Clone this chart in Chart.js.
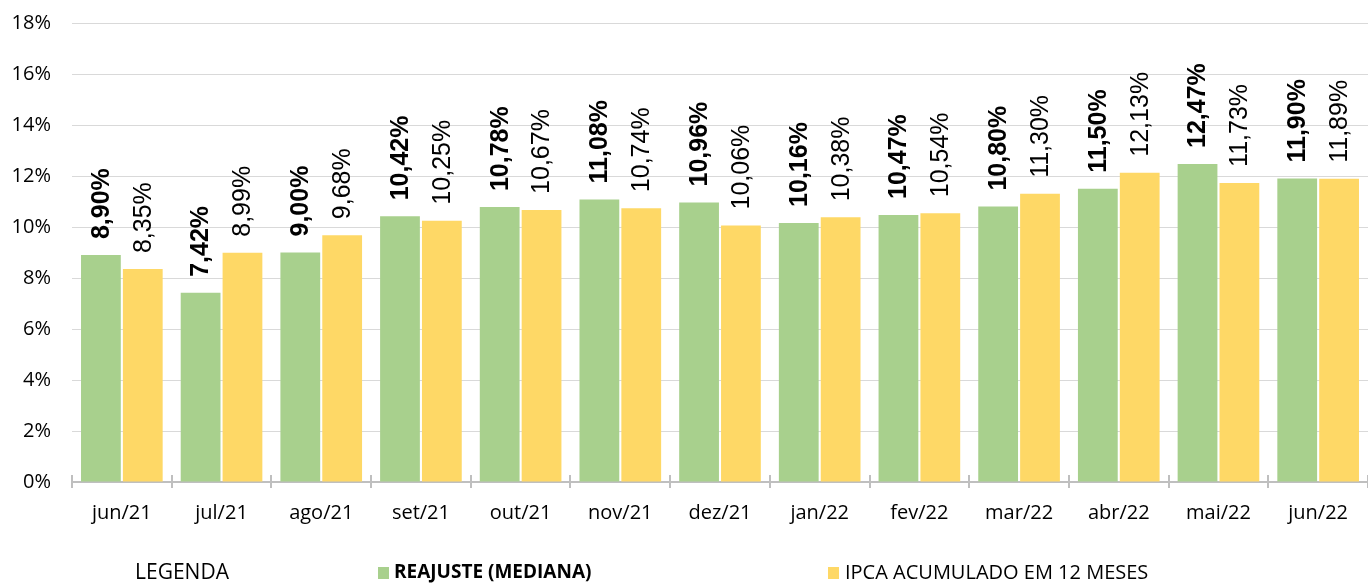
<!DOCTYPE html>
<html lang="pt-BR">
<head>
<meta charset="utf-8">
<title>Reajuste x IPCA</title>
<script src="https://cdn.jsdelivr.net/npm/chart.js@4.4.1/dist/chart.umd.min.js"></script>
<style>
    html, body { margin: 0; padding: 0; background: #fff; }
    #wrap { width: 1368px; height: 583px; position: relative; }
</style>
</head>
<body>
<div id="wrap"><canvas id="reajusteChart"></canvas></div>
<script>
// Data
const months = ['jun/21', 'jul/21', 'ago/21', 'set/21', 'out/21', 'nov/21', 'dez/21',
    'jan/22', 'fev/22', 'mar/22', 'abr/22', 'mai/22', 'jun/22'];
const reajusteMediana = [8.90, 7.42, 9.00, 10.42, 10.78, 11.08, 10.96, 10.16, 10.47, 10.80, 11.50, 12.47, 11.90];
const ipca12Meses = [8.35, 8.99, 9.68, 10.25, 10.67, 10.74, 10.06, 10.38, 10.54, 11.30, 12.13, 11.73, 11.89];
const yTicks = [0, 2, 4, 6, 8, 10, 12, 14, 16, 18];

const GREEN = '#a8d08d';
const YELLOW = '#fed866';
const AXIS_FONT = '"Open Sans", Lato, sans-serif';
const LABEL_FONT = '"Liberation Sans", Arial, sans-serif';

function fmt(v) {
    return v.toFixed(2).replace('.', ',') + '%';
}

// Rotated value labels above each bar
const barLabels = {
    id: 'barLabels',
    afterDatasetsDraw(chart) {
        const ctx = chart.ctx;
        chart.data.datasets.forEach((ds, di) => {
            const meta = chart.getDatasetMeta(di);
            meta.data.forEach((bar, i) => {
                ctx.save();
                ctx.translate(bar.x + 1, bar.y - 16);
                ctx.rotate(-Math.PI / 2);
                ctx.font = (di === 0 ? 'bold ' : '') + '25px ' + LABEL_FONT;
                ctx.fillStyle = '#000';
                ctx.textAlign = 'left';
                ctx.textBaseline = 'middle';
                ctx.fillText(fmt(ds.data[i]), 0, 0);
                ctx.restore();
            });
        });
    }
};

// Category separators crossing the x axis, plus the custom legend row
const axisAndLegend = {
    id: 'axisAndLegend',
    afterDraw(chart) {
        const ctx = chart.ctx;
        const x = chart.scales.x;
        const bottom = chart.chartArea.bottom;
        const step = (x.right - x.left) / months.length;
        ctx.save();
        ctx.strokeStyle = '#bfbfbf';
        ctx.lineWidth = 2;
        for (let i = 0; i <= months.length; i++) {
            const px = Math.round(x.left + i * step);
            ctx.beginPath();
            ctx.moveTo(px, bottom - 7);
            ctx.lineTo(px, bottom + 6);
            ctx.stroke();
        }

        // Legend
        const ly = 573;
        ctx.textBaseline = 'middle';
        ctx.fillStyle = '#000';
        ctx.font = '21px ' + AXIS_FONT;
        ctx.textAlign = 'center';
        ctx.fillText('LEGENDA', 182, ly);

        ctx.textAlign = 'left';
        ctx.fillStyle = chart.data.datasets[0].backgroundColor;
        ctx.fillRect(378, ly - 6, 11, 12);
        ctx.fillStyle = '#000';
        ctx.font = 'bold 19px ' + AXIS_FONT;
        ctx.fillText(chart.data.datasets[0].label, 394, ly);

        ctx.fillStyle = chart.data.datasets[1].backgroundColor;
        ctx.fillRect(828, ly - 6, 11, 12);
        ctx.fillStyle = '#000';
        ctx.font = '20px ' + AXIS_FONT;
        ctx.fillText(chart.data.datasets[1].label, 845, ly);
        ctx.restore();
    }
};

const ctx = document.getElementById('reajusteChart').getContext('2d');
const reajusteChart = new Chart(ctx, {
    type: 'bar',
    data: {
        labels: months,
        datasets: [
            {
                label: 'REAJUSTE (MEDIANA)',
                data: reajusteMediana,
                backgroundColor: GREEN,
                categoryPercentage: 0.84,
                barPercentage: 0.95
            },
            {
                label: 'IPCA ACUMULADO EM 12 MESES',
                data: ipca12Meses,
                backgroundColor: YELLOW,
                categoryPercentage: 0.84,
                barPercentage: 0.95
            }
        ]
    },
    options: {
        responsive: true,
        maintainAspectRatio: false,
        animation: false,
        layout: { padding: { top: 23, right: 0, bottom: 0, left: 0 } },
        plugins: {
            legend: { display: false },
            tooltip: { enabled: false }
        },
        scales: {
            x: {
                grid: { display: false },
                border: { color: '#bfbfbf', width: 2 },
                ticks: {
                    color: '#000',
                    padding: 11,
                    font: { family: AXIS_FONT, size: 20 },
                    maxRotation: 0
                },
                afterFit(scale) { scale.height = 101; }
            },
            y: {
                min: 0,
                max: 18,
                afterBuildTicks(scale) {
                    scale.ticks = yTicks.map(v => ({ value: v }));
                },
                // invisible tick marks give the gap between labels and plot
                grid: { color: '#d9d9d9', lineWidth: 1, drawTicks: true, tickLength: 21, tickColor: 'rgba(0,0,0,0)' },
                border: { display: false },
                ticks: {
                    color: '#000',
                    padding: 0,
                    font: { family: AXIS_FONT, size: 20 },
                    callback: v => v + '%'
                },
                afterFit(scale) { scale.width = 72; }
            }
        }
    },
    plugins: [barLabels, axisAndLegend]
});
</script>
</body>
</html>
